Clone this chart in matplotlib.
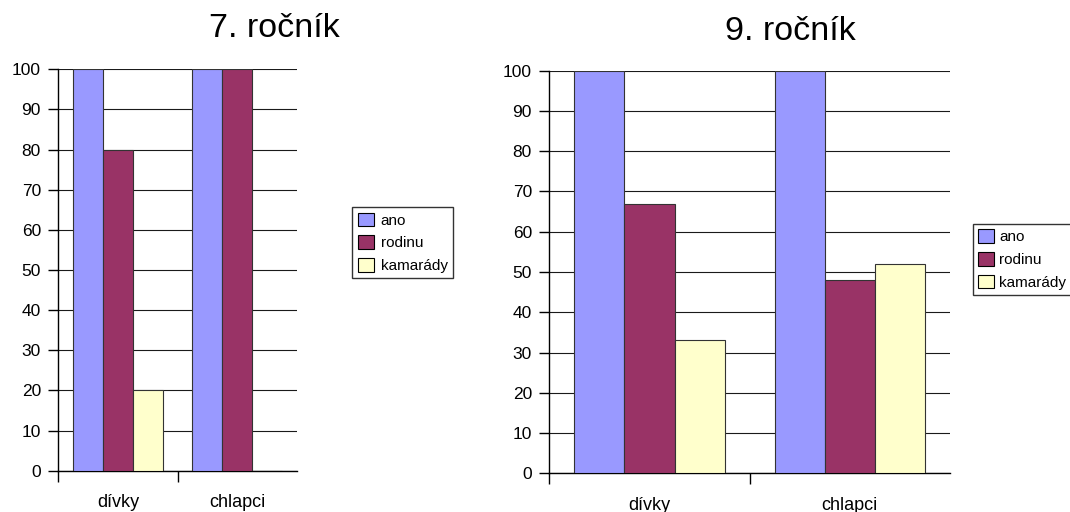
import matplotlib
matplotlib.use("Agg")
import matplotlib.pyplot as plt
import numpy as np

# survey answers in percent, grouped by class year
categories = ['dívky', 'chlapci']
series = ['ano', 'rodinu', 'kamarády']
grade7 = {'ano': [100, 100], 'rodinu': [80, 100], 'kamarády': [20, 0]}
grade9 = {'ano': [100, 100], 'rodinu': [67, 48], 'kamarády': [33, 52]}
titles = ['7. ročník', '9. ročník']
yticks = list(range(0, 101, 10))

colors = {'ano': '#9999FF', 'rodinu': '#993366', 'kamarády': '#FFFFCC'}
font = 'Liberation Sans'
plt.rcParams['font.family'] = [font, 'DejaVu Sans']

fig = plt.figure(figsize=(10.7, 5.12), dpi=100)
fig.patch.set_facecolor('white')

# axes boxes, title spots and legend anchors in figure fractions
layout = [
    dict(rect=[0.0545, 0.0807, 0.2228, 0.7839], title=(0.256, 0.945),
         legend=(0.3293, 0.5951), textpad=0.45),
    dict(rect=[0.5134, 0.0756, 0.3745, 0.7863], title=(0.739, 0.939),
         legend=(0.9093, 0.5625), textpad=0.3),
]

for data, title, spec in zip([grade7, grade9], titles, layout):
    ax = fig.add_axes(spec['rect'])
    x = np.arange(len(categories)) + 0.5
    width = 0.25
    for i, name in enumerate(series):
        ax.bar(x + (i - 1) * width, data[name], width, color=colors[name],
               edgecolor='#333333', linewidth=0.8, label=name, zorder=3)

    ax.set_xlim(0, len(categories))
    ax.set_ylim(0, 100)
    ax.set_yticks(yticks)
    ax.set_xticks(x)
    ax.set_xticklabels(categories)
    ax.set_xticks([0, 1], minor=True)
    ax.tick_params(axis='x', which='major', length=0, pad=17, labelsize=13)
    ax.tick_params(axis='x', which='minor', length=8, width=1, direction='out')
    ax.tick_params(axis='y', length=7.5, width=1, pad=5, labelsize=12.5)

    ax.grid(axis='y', color='#1a1a1a', linewidth=0.8, zorder=0)
    ax.set_axisbelow(True)
    for side in ['top', 'right']:
        ax.spines[side].set_visible(False)
    for side in ['left', 'bottom']:
        ax.spines[side].set_linewidth(1)
        ax.spines[side].set_color('black')

    fig.text(spec['title'][0], spec['title'][1], title, fontsize=24.5,
             ha='center', va='center')

    handles, labels = ax.get_legend_handles_labels()
    leg = fig.legend(handles, labels, loc='upper left',
                     bbox_to_anchor=spec['legend'], borderaxespad=0,
                     fontsize=11, frameon=True, fancybox=False,
                     edgecolor='black', handlelength=1.05, handleheight=1.0,
                     handletextpad=spec['textpad'], labelspacing=0.5,
                     borderpad=0.35)
    leg.get_frame().set_linewidth(1)
    for patch in leg.get_patches():
        patch.set_edgecolor('black')

fig.savefig('out.png', dpi=100, facecolor='white')
